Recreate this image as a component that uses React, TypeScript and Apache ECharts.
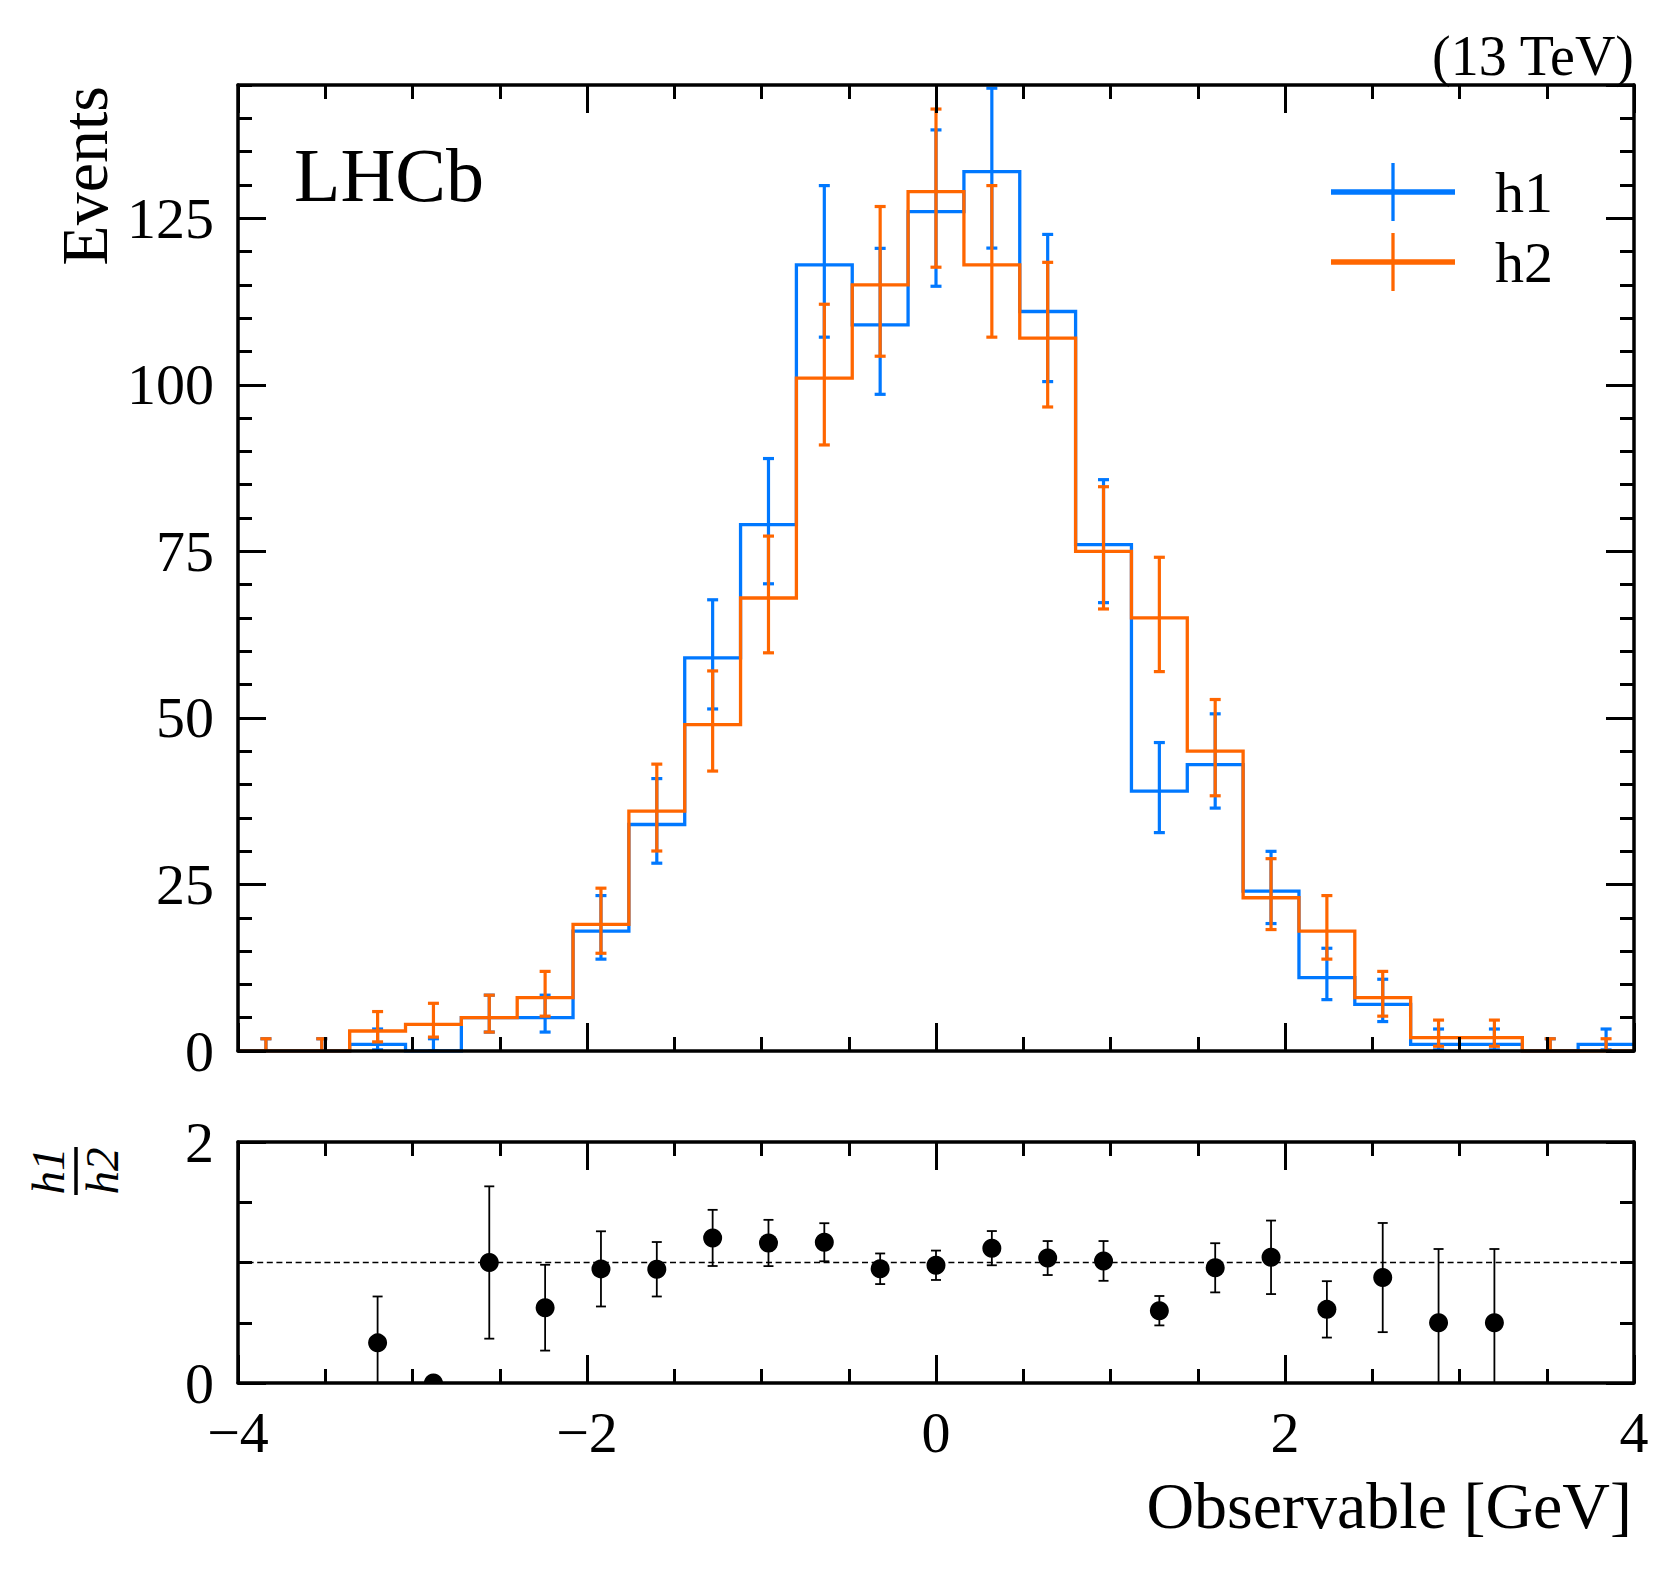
import React, { useEffect, useRef } from "react";
import * as echarts from "echarts";

// ---------------- data ----------------
const binEdges = [
  -4, -3.68, -3.36, -3.04, -2.72, -2.4, -2.08, -1.76, -1.44, -1.12, -0.8, -0.48, -0.16,
  0.16, 0.48, 0.8, 1.12, 1.44, 1.76, 2.08, 2.4, 2.72, 3.04, 3.36, 3.68, 4,
];
const binCenters = [
  -3.84, -3.52, -3.2, -2.88, -2.56, -2.24, -1.92, -1.6, -1.28, -0.96, -0.64, -0.32, 0,
  0.32, 0.64, 0.96, 1.28, 1.6, 1.92, 2.24, 2.56, 2.88, 3.2, 3.52, 3.84,
];
const h1Counts = [0, 0, 1, 0, 5, 5, 18, 34, 59, 79, 118, 109, 126, 132, 111, 76, 39, 43, 24, 11, 7, 1, 1, 0, 1];
const h1ErrLow = [0, 0, 0.83, 0, 2.16, 2.16, 4.21, 5.81, 7.66, 8.87, 10.85, 10.43, 11.21, 11.48, 10.52, 8.7, 6.22, 6.54, 4.87, 3.29, 2.58, 0.83, 0.83, 0, 0.83];
const h1ErrHigh = [1.84, 1.84, 2.3, 1.84, 3.38, 3.38, 5.33, 6.89, 8.73, 9.93, 11.9, 11.48, 12.26, 12.52, 11.57, 9.76, 7.3, 7.61, 5.97, 4.42, 3.77, 2.3, 2.3, 1.84, 2.3];

const h2Counts = [0, 0, 3, 4, 5, 8, 19, 36, 49, 68, 101, 115, 129, 118, 107, 75, 65, 45, 23, 18, 8, 2, 2, 0, 0];
const h2ErrLow = [0, 0, 1.63, 1.91, 2.16, 2.77, 4.33, 5.98, 6.98, 8.23, 10.03, 10.71, 11.35, 10.85, 10.33, 8.65, 8.05, 6.69, 4.77, 4.21, 2.77, 1.29, 1.29, 0, 0];
const h2ErrHigh = [1.84, 1.84, 2.92, 3.16, 3.38, 3.95, 5.44, 7.06, 8.05, 9.29, 11.09, 11.76, 12.39, 11.9, 11.38, 9.7, 9.11, 7.76, 5.87, 5.33, 3.95, 2.64, 2.64, 1.84, 1.84];

const ratioCenters = [-3.2, -2.88, -2.56, -2.24, -1.92, -1.6, -1.28, -0.96, -0.64, -0.32, 0, 0.32, 0.64, 0.96, 1.28, 1.6, 1.92, 2.24, 2.56, 2.88, 3.2];
const ratioValues = [0.333, 0, 1, 0.625, 0.947, 0.944, 1.204, 1.162, 1.168, 0.948, 0.977, 1.119, 1.037, 1.013, 0.6, 0.956, 1.043, 0.611, 0.875, 0.5, 0.5];
const ratioErrors = [0.385, 0, 0.632, 0.356, 0.312, 0.226, 0.233, 0.192, 0.158, 0.127, 0.122, 0.142, 0.141, 0.165, 0.122, 0.204, 0.305, 0.234, 0.453, 0.612, 0.612];

const xRange = [-4, 4];
const xMajorStep = 2;
const mainYRange = [0, 145];
const mainYMajorStep = 25;
const mainYMinorStep = 5;
const mainYLastLabel = 125;
const ratioYRange = [0, 2];
const ratioYMajorStep = 2;
const ratioReference = 1;

const seriesNames = ["h1", "h2"];
const BLUE = "#0078FF";
const ORANGE = "#FF6600";
const FONT = "'Liberation Serif', 'Times New Roman', Times, serif";

// ---------------- helpers ----------------
const fmtMinus = (v: number) => (v < 0 ? "\u2212" + Math.abs(v) : String(v));

const tickStyle = { color: "#000", width: 3 };
const spine = { show: true, onZero: false, lineStyle: { color: "#000", width: 3.5 } };

function xAxisDef(gridIndex: number, position: string, labels: boolean) {
  return {
    type: "value",
    gridIndex,
    position,
    min: xRange[0],
    max: xRange[1],
    interval: xMajorStep,
    z: 10,
    axisLine: spine,
    axisTick: { show: true, inside: true, length: 28, lineStyle: tickStyle },
    minorTick: { show: true, splitNumber: 4, length: 14, lineStyle: tickStyle },
    splitLine: { show: false },
    minorSplitLine: { show: false },
    axisLabel: labels
      ? { show: true, margin: 20, fontSize: 58, fontFamily: FONT, color: "#000", formatter: fmtMinus }
      : { show: false },
  };
}

function yAxisDef(
  gridIndex: number,
  position: string,
  range: number[],
  interval: number,
  tickLen: number,
  labels: boolean,
  minorSplit: number,
  lastLabel: number,
  showLine: boolean
) {
  return {
    type: "value",
    gridIndex,
    position,
    min: range[0],
    max: range[1],
    interval,
    z: 10,
    axisLine: { ...spine, show: showLine },
    axisTick: { show: true, inside: true, length: tickLen, lineStyle: tickStyle },
    minorTick: { show: minorSplit > 0, splitNumber: minorSplit || 5, length: 14, lineStyle: tickStyle },
    splitLine: { show: false },
    minorSplitLine: { show: false },
    axisLabel: labels
      ? {
          show: true,
          margin: 24,
          fontSize: 58,
          fontFamily: FONT,
          color: "#000",
          showMaxLabel: lastLabel >= range[1],
          formatter: (v: number) => (v > lastLabel ? "" : fmtMinus(v)),
        }
      : { show: false },
  };
}

function stepData(counts: number[]) {
  return binEdges.map((e, i) => [e, counts[Math.min(i, counts.length - 1)]]);
}

function errorSeries(name: string, counts: number[], lo: number[], hi: number[], color: string, z: number) {
  return {
    type: "custom",
    name,
    xAxisIndex: 0,
    yAxisIndex: 0,
    clip: true,
    z,
    silent: true,
    data: binCenters.map((c, i) => [c, counts[i], counts[i] - lo[i], counts[i] + hi[i]]),
    encode: { x: 0, y: [1, 2, 3] },
    renderItem: (_p: any, api: any) => {
      const x = api.value(0);
      const a = api.coord([x, api.value(2)]);
      const b = api.coord([x, api.value(3)]);
      const st = { stroke: color, lineWidth: 3.2, fill: null };
      const cap = 5.5;
      return {
        type: "group",
        children: [
          { type: "line", shape: { x1: a[0], y1: a[1], x2: b[0], y2: b[1] }, style: st },
          { type: "line", shape: { x1: a[0] - cap, y1: a[1], x2: a[0] + cap, y2: a[1] }, style: st },
          { type: "line", shape: { x1: b[0] - cap, y1: b[1], x2: b[0] + cap, y2: b[1] }, style: st },
        ],
      };
    },
  };
}

function stepSeries(name: string, counts: number[], color: string, z: number) {
  return {
    type: "line",
    name,
    xAxisIndex: 0,
    yAxisIndex: 0,
    step: "end",
    z,
    silent: true,
    symbol: "none",
    showSymbol: false,
    clip: true,
    data: stepData(counts),
    lineStyle: { color, width: 3.3, join: "miter", cap: "butt" },
  };
}

// ---------------- component ----------------
export default function App() {
  const ref = useRef<HTMLDivElement>(null);

  useEffect(() => {
    if (!ref.current) return;
    const chart = echarts.init(ref.current, null, { renderer: "svg" });

    const mainGrid = { left: 238, top: 85, width: 1396, height: 966 };
    const ratioGrid = { left: 238, top: 1142, width: 1396, height: 241 };

    const textStyle = (size: number, extra: any = {}) => ({
      fontSize: size,
      fontFamily: FONT,
      fill: "#000",
      ...extra,
    });

    const legendRows = [
      { name: seriesNames[0], color: BLUE, y: 192 },
      { name: seriesNames[1], color: ORANGE, y: 262 },
    ];

    const legendGraphics: any[] = [];
    legendRows.forEach((r) => {
      legendGraphics.push({
        type: "line",
        shape: { x1: 1331, y1: r.y, x2: 1455, y2: r.y },
        style: { stroke: r.color, lineWidth: 5.3 },
      });
      legendGraphics.push({
        type: "line",
        shape: { x1: 1393, y1: r.y - 29, x2: 1393, y2: r.y + 29 },
        style: { stroke: r.color, lineWidth: 3.3 },
      });
      legendGraphics.push({
        type: "text",
        x: 1495,
        y: r.y,
        style: textStyle(58, {
          text: r.name,
          align: "left",
          textAlign: "left",
          verticalAlign: "middle",
          textVerticalAlign: "middle",
        }),
      });
    });

    const option: any = {
      animation: false,
      backgroundColor: "#fff",
      grid: [
        { ...mainGrid, outerBoundsMode: "none", containLabel: false },
        { ...ratioGrid, outerBoundsMode: "none", containLabel: false },
      ],
      xAxis: [
        xAxisDef(0, "bottom", false),
        xAxisDef(0, "top", false),
        xAxisDef(1, "bottom", true),
        xAxisDef(1, "top", false),
      ],
      yAxis: [
        yAxisDef(0, "left", mainYRange, mainYMajorStep, 28, true, 0, mainYLastLabel, true),
        yAxisDef(0, "right", mainYRange, mainYMajorStep, 28, false, 0, mainYLastLabel, true),
        yAxisDef(0, "left", mainYRange, mainYMinorStep, 14, false, 0, mainYLastLabel, false),
        yAxisDef(0, "right", mainYRange, mainYMinorStep, 14, false, 0, mainYLastLabel, false),
        yAxisDef(1, "left", ratioYRange, ratioYMajorStep, 28, true, 4, ratioYRange[1], true),
        yAxisDef(1, "right", ratioYRange, ratioYMajorStep, 28, false, 4, ratioYRange[1], true),
      ],
      series: [
        stepSeries(seriesNames[0], h1Counts, BLUE, 2),
        errorSeries(seriesNames[0] + " err", h1Counts, h1ErrLow, h1ErrHigh, BLUE, 3),
        stepSeries(seriesNames[1], h2Counts, ORANGE, 4),
        errorSeries(seriesNames[1] + " err", h2Counts, h2ErrLow, h2ErrHigh, ORANGE, 5),
        {
          type: "line",
          name: "reference",
          xAxisIndex: 2,
          yAxisIndex: 4,
          silent: true,
          symbol: "none",
          showSymbol: false,
          z: 2,
          data: [
            [xRange[0], ratioReference],
            [xRange[1], ratioReference],
          ],
          lineStyle: { color: "#000", width: 1.6, type: [6, 3.6] },
        },
        {
          type: "custom",
          name: "h1/h2",
          xAxisIndex: 2,
          yAxisIndex: 4,
          clip: true,
          silent: true,
          z: 4,
          data: ratioCenters.map((c, i) => [c, ratioValues[i], ratioValues[i] - ratioErrors[i], ratioValues[i] + ratioErrors[i]]),
          encode: { x: 0, y: [1, 2, 3] },
          renderItem: (_p: any, api: any) => {
            const x = api.value(0);
            const v = api.value(1);
            const lo = api.value(2);
            const hi = api.value(3);
            const c = api.coord([x, v]);
            const children: any[] = [];
            if (hi > lo) {
              const a = api.coord([x, lo]);
              const b = api.coord([x, hi]);
              const st = { stroke: "#000", lineWidth: 1.8, fill: null };
              const cap = 5;
              children.push({ type: "line", shape: { x1: a[0], y1: a[1], x2: b[0], y2: b[1] }, style: st });
              children.push({ type: "line", shape: { x1: a[0] - cap, y1: a[1], x2: a[0] + cap, y2: a[1] }, style: st });
              children.push({ type: "line", shape: { x1: b[0] - cap, y1: b[1], x2: b[0] + cap, y2: b[1] }, style: st });
            }
            children.push({ type: "circle", shape: { cx: c[0], cy: c[1], r: 9.5 }, style: { fill: "#000" } });
            return { type: "group", children };
          },
        },
      ],
      graphic: [
        {
          type: "text",
          x: 294,
          y: 175,
          style: textStyle(76, { text: "LHCb", align: "left", textAlign: "left", verticalAlign: "middle", textVerticalAlign: "middle" }),
        },
        {
          type: "text",
          x: 1634,
          y: 56,
          style: textStyle(56, { text: "(13 TeV)", align: "right", textAlign: "right", verticalAlign: "middle", textVerticalAlign: "middle" }),
        },
        {
          type: "text",
          x: 84,
          y: 86,
          rotation: Math.PI / 2,
          style: textStyle(66, { text: "Events", align: "right", textAlign: "right", verticalAlign: "middle", textVerticalAlign: "middle" }),
        },
        {
          type: "text",
          x: 1632,
          y: 1505,
          style: textStyle(66, {
            text: "Observable [GeV]",
            align: "right",
            textAlign: "right",
            verticalAlign: "middle",
            textVerticalAlign: "middle",
          }),
        },
        {
          type: "group",
          x: 76,
          y: 1171,
          rotation: Math.PI / 2,
          children: [
            { type: "line", shape: { x1: -24, y1: 0, x2: 24, y2: 0 }, style: { stroke: "#000", lineWidth: 3.5 } },
            {
              type: "text",
              x: 0,
              y: -5,
              style: textStyle(47, { text: "h1", fontStyle: "italic", align: "center", textAlign: "center", verticalAlign: "bottom", textVerticalAlign: "bottom" }),
            },
            {
              type: "text",
              x: 0,
              y: 2,
              style: textStyle(47, { text: "h2", fontStyle: "italic", align: "center", textAlign: "center", verticalAlign: "top", textVerticalAlign: "top" }),
            },
          ],
        },
        ...legendGraphics,
      ],
    };

    chart.setOption(option);
    return () => {
      chart.dispose();
    };
  }, []);

  return (
    <div
      ref={ref}
      style={{ position: "absolute", left: 0, top: 0, width: 1679, height: 1573, background: "#fff" }}
    />
  );
}
